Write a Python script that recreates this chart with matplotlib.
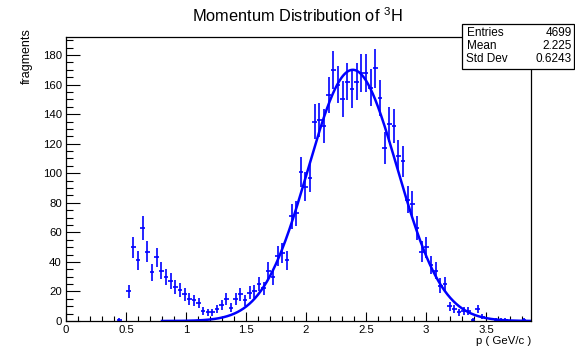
import numpy as np
import matplotlib
matplotlib.use("Agg")
import matplotlib.pyplot as plt
from matplotlib.ticker import MultipleLocator
from matplotlib.patches import Rectangle

plt.rcParams['font.family'] = ['Liberation Sans', 'DejaVu Sans']
plt.rcParams['mathtext.fontset'] = 'custom'
plt.rcParams['mathtext.rm'] = 'Liberation Sans'
plt.rcParams['mathtext.it'] = 'Liberation Sans:italic'

# ---- data ----
x_min, x_max, n_bins = 0.0, 3.875, 100
bin_index = [11, 13, 14, 15, 16, 17, 18, 19, 20, 21, 22, 23, 24, 25, 26, 27, 28, 29,
             30, 31, 32, 33, 34, 35, 36, 37, 38, 39, 40, 41, 42, 43, 44, 45, 46, 47,
             48, 49, 50, 51, 52, 53, 54, 55, 56, 57, 58, 59, 60, 61, 62, 63, 64, 65,
             66, 67, 68, 69, 70, 71, 72, 73, 74, 75, 76, 77, 78, 79, 80, 81, 82, 83,
             84, 85, 86, 87, 88, 89, 92, 93, 94, 98]
bin_counts = [1, 20, 50, 41, 63, 47, 33, 43, 34, 30, 27, 23, 21, 18, 15, 14, 12, 7,
              6, 6, 8, 11, 15, 9, 15, 18, 14, 19, 20, 25, 22, 34, 30, 44, 46, 41,
              71, 73, 101, 91, 97, 135, 136, 132, 153, 170, 160, 150, 162, 157, 162, 168, 168, 158,
              171, 151, 117, 133, 132, 112, 108, 82, 79, 63, 47, 50, 38, 34, 24, 25, 10, 8,
              6, 7, 7, 1, 8, 3, 1, 1, 1, 1]
fit_amp, fit_mean, fit_sigma = 170.0, 2.39, 0.372
fit_lo, fit_hi = 0.8, 3.875
y_max = 192.2
title = "Momentum Distribution of $^{3}$H"
x_title = "p ( GeV/c )"
y_title = "fragments"
stats_labels = ["Entries", "Mean", "Std Dev"]
stats_values = ["4699", "2.225", "0.6243"]

W, H = 575, 348
fig = plt.figure(figsize=(W / 100, H / 100), dpi=100)
ax = fig.add_axes([66 / W, 1 - 321 / H, (531 - 66) / W, (321 - 37) / H])

width = (x_max - x_min) / n_bins
idx = np.array(bin_index)
cnt = np.array(bin_counts, dtype=float)
centers = x_min + (idx + 0.5) * width
blue = '#0000ff'
ax.errorbar(centers, cnt, yerr=np.sqrt(cnt), xerr=width / 2, fmt='none',
            ecolor=blue, elinewidth=1.2, capsize=0)

xs = np.linspace(fit_lo, fit_hi, 500)
ax.plot(xs, fit_amp * np.exp(-0.5 * ((xs - fit_mean) / fit_sigma) ** 2),
        color=blue, lw=1.8)

ax.set_xlim(x_min, x_max)
ax.set_ylim(0, y_max)
ax.xaxis.set_major_locator(MultipleLocator(0.5))
ax.xaxis.set_minor_locator(MultipleLocator(0.1))
ax.yaxis.set_major_locator(MultipleLocator(20))
ax.yaxis.set_minor_locator(MultipleLocator(5))
ax.xaxis.set_major_formatter(plt.FuncFormatter(lambda v, p: f"{v:g}"))
ax.tick_params(axis='both', which='both', direction='in', top=False, right=False,
               labelsize=8.2, colors='black')
ax.tick_params(axis='x', which='major', length=6.5, width=0.8, pad=3)
ax.tick_params(axis='x', which='minor', length=3.3, width=0.8)
ax.tick_params(axis='y', which='major', length=10, width=0.8, pad=3)
ax.tick_params(axis='y', which='minor', length=5, width=0.8)
for s in ax.spines.values():
    s.set_linewidth(0.9)

fig.text(297 / W, 1 - 16 / H, title, ha='center', va='center', fontsize=11.8)
fig.text(531 / W, 1 - 341.5 / H, x_title, ha='right', va='center', fontsize=8.2)
fig.text(27 / W, 1 - 28 / H, y_title, ha='center', va='top', rotation=90, fontsize=9)

# stats box
fig.add_artist(Rectangle((462 / W, 1 - 69 / H), (574 - 462) / W, (69 - 24) / H,
                         transform=fig.transFigure, facecolor='white',
                         edgecolor='black', lw=0.9, zorder=10))
for i, (lab, val) in enumerate(zip(stats_labels, stats_values)):
    yy = 1 - (33 + i * 13.2) / H
    fig.text(466.5 / W, yy, lab, ha='left', va='center', fontsize=8.5, zorder=11)
    fig.text(571.5 / W, yy, val, ha='right', va='center', fontsize=8.5, zorder=11)

fig.savefig("out.png", dpi=100, facecolor='white')
